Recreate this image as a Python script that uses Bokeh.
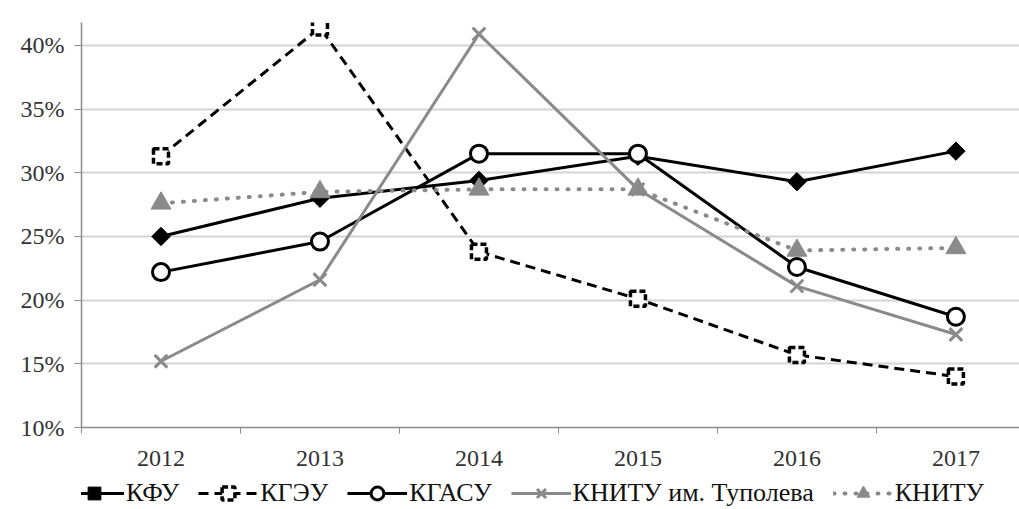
import math
from bokeh.plotting import figure
from bokeh.layouts import column
from bokeh.models import FixedTicker, Legend, LegendItem, Range1d, PrintfTickFormatter
from bokeh.embed import file_html
from bokeh.resources import INLINE

years = [2012, 2013, 2014, 2015, 2016, 2017]
kfu = [25.0, 28.0, 29.4, 31.3, 29.3, 31.7]
kgeu = [31.3, 41.4, 23.8, 20.1, 15.7, 14.0]
kgasu = [22.2, 24.6, 31.5, 31.5, 22.6, 18.7]
knitu_kai = [15.2, 21.6, 40.9, 28.7, 21.1, 17.3]
knitu = [27.6, 28.5, 28.7, 28.7, 23.9, 24.1]
y_ticks = [10, 15, 20, 25, 30, 35, 40]
names = ["КФУ", "КГЭУ", "КГАСУ", "КНИТУ им. Туполева", "КНИТУ"]

SERIF = "Liberation Serif"
GRAY = "#8a8a8a"

p = figure(frame_width=938, frame_height=405, min_border_left=81, min_border_top=22,
           min_border_right=0, min_border_bottom=50, output_backend="svg", toolbar_location=None,
           x_range=Range1d(2011.5, 2017.4), y_range=Range1d(10, 41.8))
p.outline_line_color = None
p.background_fill_color = "white"

p.xgrid.grid_line_color = None
p.ygrid.grid_line_color = "#d4d4d4"
p.ygrid.grid_line_width = 2
p.ygrid.ticker = FixedTicker(ticks=y_ticks)

p.yaxis.ticker = FixedTicker(ticks=y_ticks)
p.yaxis.formatter = PrintfTickFormatter(format="%d%%")
p.yaxis.axis_line_color = GRAY
p.yaxis.axis_line_width = 1.5
p.yaxis.major_tick_line_color = GRAY
p.yaxis.major_tick_out = 7
p.yaxis.major_tick_in = 0
p.yaxis.minor_tick_line_color = None
p.yaxis.major_label_text_font = SERIF
p.yaxis.major_label_text_font_size = "24px"
p.yaxis.major_label_text_color = "#333333"
p.yaxis.major_label_standoff = 10

p.xaxis.ticker = FixedTicker(ticks=years, minor_ticks=[y - 0.5 for y in years] + [2017.5])
p.xaxis.major_label_overrides = {y: str(y) for y in years}
p.xaxis.axis_line_color = GRAY
p.xaxis.axis_line_width = 1.5
p.xaxis.major_tick_line_color = None
p.xaxis.minor_tick_line_color = GRAY
p.xaxis.minor_tick_out = 6
p.xaxis.minor_tick_in = 0
p.xaxis.major_label_text_font = SERIF
p.xaxis.major_label_text_font_size = "24px"
p.xaxis.major_label_text_color = "#333333"
p.xaxis.major_label_standoff = 17


def draw(fig, xs, ys, line_kw, marker_kw):
    ln = fig.line(xs, ys, **line_kw)
    sc = fig.scatter(xs, ys, **marker_kw)
    return [ln, sc]


styles = [
    (dict(line_color="black", line_width=3),
     dict(marker="square", size=13, angle=math.pi / 4, fill_color="black", line_color="black")),
    (dict(line_color="black", line_width=3, line_dash="10 6"),
     dict(marker="square", size=15, fill_color="white", line_color="black", line_width=3.5,
          line_dash="6 3")),
    (dict(line_color="black", line_width=3),
     dict(marker="circle", size=17, fill_color="white", line_color="black", line_width=3)),
    (dict(line_color=GRAY, line_width=3),
     dict(marker="x", size=18, line_color=GRAY, line_width=3)),
    (dict(line_color=GRAY, line_width=4, line_dash="1 10", line_cap="round"),
     dict(marker="triangle", size=20, fill_color=GRAY, line_color=GRAY)),
]
series = [kfu, kgeu, kgasu, knitu_kai, knitu]

for vals, (lk, mk) in zip(series, styles):
    draw(p, years, vals, lk, mk)

# legend strip below the chart (its renderers use the same data, outside this strip's view)
lf = figure(width=1019, height=32, min_border=0, output_backend="svg", toolbar_location=None,
            x_range=Range1d(0, 1), y_range=Range1d(0, 1), x_axis_type=None, y_axis_type=None)
lf.outline_line_color = None
lf.grid.visible = False
items = []
for name, vals, (lk, mk) in zip(names, series, styles):
    items.append(LegendItem(label=name, renderers=draw(lf, years, vals, lk, mk)))

legend = Legend(items=items, orientation="horizontal", location=(-17, 0),
                label_text_font=SERIF, label_text_font_size="26px", label_text_color="#111111",
                glyph_width=60, glyph_height=32, label_standoff=2, spacing=19,
                padding=0, margin=0, border_line_color=None, background_fill_alpha=0)
lf.add_layout(legend, "center")

open("out.html", "w").write(file_html(column(p, lf, spacing=0), INLINE))
